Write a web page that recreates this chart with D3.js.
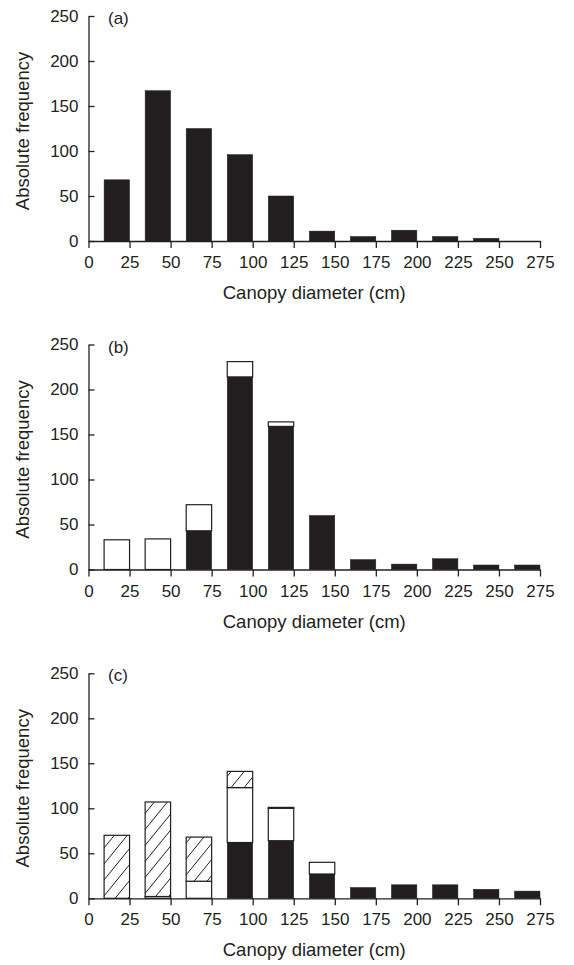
<!DOCTYPE html>
<html>
<head>
<meta charset="utf-8">
<script src="https://cdn.jsdelivr.net/npm/d3@7"></script>
<style>
  body { margin: 0; background: #fff; }
  text { font-family: "Liberation Sans", Arial, sans-serif; fill: #231f20; }
</style>
</head>
<body>
<div class="chart"></div>
<script>
// bin start of each 25 cm class
var bins = [0, 25, 50, 75, 100, 125, 150, 175, 200, 225, 250];
var xTicks = [0, 25, 50, 75, 100, 125, 150, 175, 200, 225, 250, 275];
var yTicks = [0, 50, 100, 150, 200, 250];

// (a)
var aBlack = [68, 167, 125, 96, 50, 11, 5, 12, 5, 3, 0];
// (b)
var bBlack = [0, 0, 43, 214, 159, 60, 11, 6, 12, 5, 5];
var bWhite = [33, 34, 29, 17, 5, 0, 0, 0, 0, 0, 0];
// (c)
var cBlack = [0, 0, 0, 62, 64, 27, 12, 15, 15, 10, 8];
var cWhite = [0, 2, 19, 61, 36, 13, 0, 0, 0, 0, 0];
var cHatch = [70, 105, 49, 18, 1, 0, 0, 0, 0, 0, 0];

function init() {
  var w = 574;
  var h = 965;
  var dark = "#231f20";

  var svg = d3.select(".chart")
    .append("svg")
    .attr("width", w)
    .attr("height", h);

  // diagonal hatching
  var pw = 13, ph = 16;
  var pat = svg.append("defs").append("pattern")
    .attr("id", "hatch")
    .attr("patternUnits", "userSpaceOnUse")
    .attr("width", pw)
    .attr("height", ph);
  pat.append("rect").attr("width", pw).attr("height", ph).attr("fill", "#fff");
  pat.append("path")
    .attr("d", "M0," + ph + "L" + pw + ",0 M-2," + (ph * 2 / pw) + "L2," + (-ph * 2 / pw) +
      " M" + (pw - 2) + "," + (ph + ph * 2 / pw) + "L" + (pw + 2) + "," + (ph - ph * 2 / pw))
    .attr("stroke", dark)
    .attr("stroke-width", 1);

  var panels = [
    { label: "(a)", top: 16, series: [{ key: "black", values: aBlack }] },
    { label: "(b)", top: 344.5, series: [{ key: "black", values: bBlack }, { key: "white", values: bWhite }] },
    { label: "(c)", top: 673.3, series: [{ key: "black", values: cBlack }, { key: "white", values: cWhite }, { key: "hatch", values: cHatch }] }
  ];

  var fills = { black: dark, white: "#fff", hatch: "url(#hatch)" };

  var xScale = d3.scaleLinear()
    .domain([0, 275])
    .range([88.5, 540]);

  panels.forEach(function(p) {
    var yScale = d3.scaleLinear()
      .domain([0, 250])
      .range([p.top + 225, p.top]);

    var g = svg.append("g");

    // stack the segments for each bin
    var rows = bins.map(function(b, i) {
      var row = { bin: b };
      p.series.forEach(function(s) { row[s.key] = s.values[i]; });
      return row;
    });
    var stacked = d3.stack()
      .keys(p.series.map(function(s) { return s.key; }))(rows);

    stacked.forEach(function(layer) {
      g.selectAll(null)
        .data(layer.filter(function(d) { return d[1] - d[0] > 0; }))
        .enter()
        .append("rect")
        .attr("x", function(d) { return xScale(d.data.bin + 9.5); })
        .attr("width", function(d) { return xScale(d.data.bin + 25) - xScale(d.data.bin + 9.5); })
        .attr("y", function(d) { return yScale(d[1]); })
        .attr("height", function(d) { return yScale(d[0]) - yScale(d[1]); })
        .attr("fill", fills[layer.key])
        .attr("stroke", dark)
        .attr("stroke-width", layer.key === "black" ? 0.5 : 1.2);
    });

    var xAxis = d3.axisBottom(xScale)
      .tickValues(xTicks)
      .tickSizeInner(7)
      .tickSizeOuter(0)
      .tickPadding(8);

    var yAxis = d3.axisLeft(yScale)
      .tickValues(yTicks)
      .tickSizeInner(-6)
      .tickSizeOuter(0)
      .tickPadding(10);

    var gx = svg.append("g")
      .attr("transform", "translate(0," + yScale(0) + ")")
      .call(xAxis);
    var gy = svg.append("g")
      .attr("transform", "translate(" + xScale(0) + ",0)")
      .call(yAxis);

    [gx, gy].forEach(function(ax) {
      ax.selectAll("path, line").attr("stroke", dark).attr("stroke-width", 1.3);
      ax.selectAll("text")
        .attr("fill", dark)
        .style("font-size", "17px")
        .style("font-family", "Liberation Sans, Arial, sans-serif");
    });

    svg.append("text")
      .attr("x", 108)
      .attr("y", p.top + 8)
      .style("font-size", "17px")
      .text(p.label);

    svg.append("text")
      .attr("x", (xScale(0) + xScale(275)) / 2)
      .attr("y", yScale(0) + 58)
      .attr("text-anchor", "middle")
      .style("font-size", "18.5px")
      .text("Canopy diameter (cm)");

    svg.append("text")
      .attr("transform", "rotate(-90)")
      .attr("x", -(p.top + 115))
      .attr("y", 29)
      .attr("text-anchor", "middle")
      .style("font-size", "18.5px")
      .text("Absolute frequency");
  });
}

window.onload = init;
</script>
</body>
</html>
